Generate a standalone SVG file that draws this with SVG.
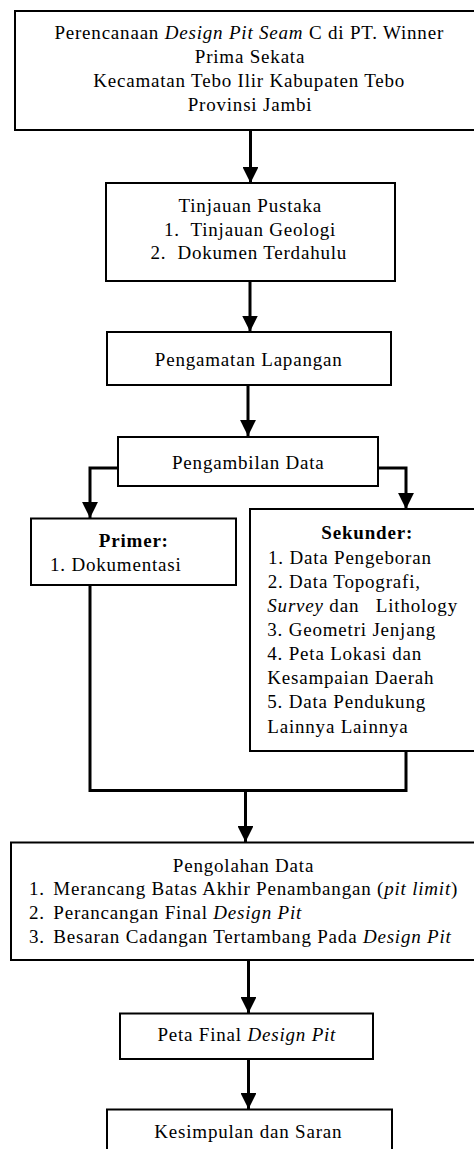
<svg xmlns="http://www.w3.org/2000/svg" width="474" height="1149" viewBox="0 0 474 1149">
<defs>
<style>
.box{fill:#fff;stroke:#000;stroke-width:2}
.ln{fill:none;stroke:#000;stroke-width:3}
</style>
<marker id="ah" viewBox="0 0 10 10" refX="10" refY="5" markerWidth="5.3" markerHeight="5.3" markerUnits="strokeWidth" orient="auto">
<path d="M0,0 L10,5 L0,10 z" fill="#000"/>
</marker>
</defs>
<rect width="474" height="1149" fill="#fff"/>
<g id="connectors">
<line class="ln" x1="250.5" y1="130" x2="250.5" y2="183" marker-end="url(#ah)"/>
<line class="ln" x1="250" y1="281" x2="250" y2="331.5" marker-end="url(#ah)"/>
<line class="ln" x1="248" y1="385" x2="248" y2="436" marker-end="url(#ah)"/>
<polyline class="ln" points="118,468 90,468 90,518" marker-end="url(#ah)"/>
<polyline class="ln" points="378,468 406,468 406,509" marker-end="url(#ah)"/>
<polyline class="ln" points="90,585 90,790.5 406,790.5 406,751"/>
<line class="ln" x1="245.5" y1="790.5" x2="245.5" y2="842" marker-end="url(#ah)"/>
<line class="ln" x1="248.5" y1="960" x2="248.5" y2="1013" marker-end="url(#ah)"/>
<line class="ln" x1="248.5" y1="1059" x2="248.5" y2="1109" marker-end="url(#ah)"/>
</g>
<g id="n1">
<rect class="box" x="15" y="11" width="470" height="119"/>
<text font-family="Liberation Serif" font-size="19" letter-spacing="0.8" text-anchor="middle" x="249.2" y="39">Perencanaan <tspan font-style="italic">Design Pit Seam</tspan> C di PT. Winner</text>
<text font-family="Liberation Serif" font-size="19" letter-spacing="0.8" text-anchor="middle" x="250" y="63">Prima Sekata</text>
<text font-family="Liberation Serif" font-size="19" letter-spacing="0.8" text-anchor="middle" x="249.2" y="87">Kecamatan Tebo Ilir Kabupaten Tebo</text>
<text font-family="Liberation Serif" font-size="19" letter-spacing="0.8" text-anchor="middle" x="250" y="111">Provinsi Jambi</text>
</g>
<g id="n2">
<rect class="box" x="106" y="183" width="289" height="98"/>
<text font-family="Liberation Serif" font-size="19" letter-spacing="0.8" text-anchor="middle" x="250.3" y="212">Tinjauan Pustaka</text>
<text font-family="Liberation Serif" font-size="19" letter-spacing="0.8" text-anchor="middle" x="250" y="236" xml:space="preserve">1.  Tinjauan Geologi</text>
<text font-family="Liberation Serif" font-size="19" letter-spacing="0.8" text-anchor="middle" x="248.8" y="259" xml:space="preserve">2.  Dokumen Terdahulu</text>
</g>
<g id="n3">
<rect class="box" x="107" y="332" width="284" height="53"/>
<text font-family="Liberation Serif" font-size="19" letter-spacing="0.8" text-anchor="middle" x="248.7" y="366">Pengamatan Lapangan</text>
</g>
<g id="n4">
<rect class="box" x="118" y="437" width="260" height="49"/>
<text font-family="Liberation Serif" font-size="19" letter-spacing="0.8" text-anchor="middle" x="248.3" y="469">Pengambilan Data</text>
</g>
<g id="n5">
<rect class="box" x="31" y="518.5" width="205" height="66.5"/>
<text font-family="Liberation Serif" font-size="19" letter-spacing="0.8" font-weight="bold" text-anchor="middle" x="133.8" y="546.5">Primer:</text>
<text font-family="Liberation Serif" font-size="19" letter-spacing="0.8" x="50" y="571">1. Dokumentasi</text>
</g>
<g id="n6">
<rect class="box" x="250" y="509" width="235" height="242"/>
<text font-family="Liberation Serif" font-size="19" letter-spacing="0.8" font-weight="bold" text-anchor="middle" x="367.2" y="539">Sekunder:</text>
<text font-family="Liberation Serif" font-size="19" letter-spacing="0.8" x="268" y="563.5">1. Data Pengeboran</text>
<text font-family="Liberation Serif" font-size="19" letter-spacing="0.8" x="267.7" y="588">2. Data Topografi,</text>
<text font-family="Liberation Serif" font-size="19" letter-spacing="0.8" x="267.3" y="612" xml:space="preserve"><tspan font-style="italic">Survey</tspan> dan   Lithology</text>
<text font-family="Liberation Serif" font-size="19" letter-spacing="0.8" x="267.3" y="636">3. Geometri Jenjang</text>
<text font-family="Liberation Serif" font-size="19" letter-spacing="0.8" x="267.3" y="660">4. Peta Lokasi dan</text>
<text font-family="Liberation Serif" font-size="19" letter-spacing="0.8" x="267.3" y="684">Kesampaian Daerah</text>
<text font-family="Liberation Serif" font-size="19" letter-spacing="0.8" x="267.3" y="708">5. Data Pendukung</text>
<text font-family="Liberation Serif" font-size="19" letter-spacing="0.8" x="267.3" y="732.5">Lainnya Lainnya</text>
</g>
<g id="n7">
<rect class="box" x="11" y="842.5" width="474" height="117.5"/>
<text font-family="Liberation Serif" font-size="19" letter-spacing="0.8" text-anchor="middle" x="243.5" y="872">Pengolahan Data</text>
<text font-family="Liberation Serif" font-size="19" letter-spacing="0.8" x="29" y="895">1.</text>
<text font-family="Liberation Serif" font-size="19" letter-spacing="0.8" x="53.3" y="895">Merancang Batas Akhir Penambangan (<tspan font-style="italic">pit limit</tspan>)</text>
<text font-family="Liberation Serif" font-size="19" letter-spacing="0.8" x="29" y="919">2.</text>
<text font-family="Liberation Serif" font-size="19" letter-spacing="0.8" x="53.3" y="919">Perancangan Final <tspan font-style="italic">Design Pit</tspan></text>
<text font-family="Liberation Serif" font-size="19" letter-spacing="0.8" x="29" y="943">3.</text>
<text font-family="Liberation Serif" font-size="19" letter-spacing="0.8" x="53.3" y="943">Besaran Cadangan Tertambang Pada <tspan font-style="italic">Design Pit</tspan></text>
</g>
<g id="n8">
<rect class="box" x="120" y="1013.5" width="253" height="45.5"/>
<text font-family="Liberation Serif" font-size="19" letter-spacing="0.8" text-anchor="middle" x="246.8" y="1041">Peta Final <tspan font-style="italic">Design Pit</tspan></text>
</g>
<g id="n9">
<rect class="box" x="107" y="1109.5" width="285" height="60"/>
<text font-family="Liberation Serif" font-size="19" letter-spacing="0.8" text-anchor="middle" x="248.3" y="1138">Kesimpulan dan Saran</text>
</g>
</svg>
